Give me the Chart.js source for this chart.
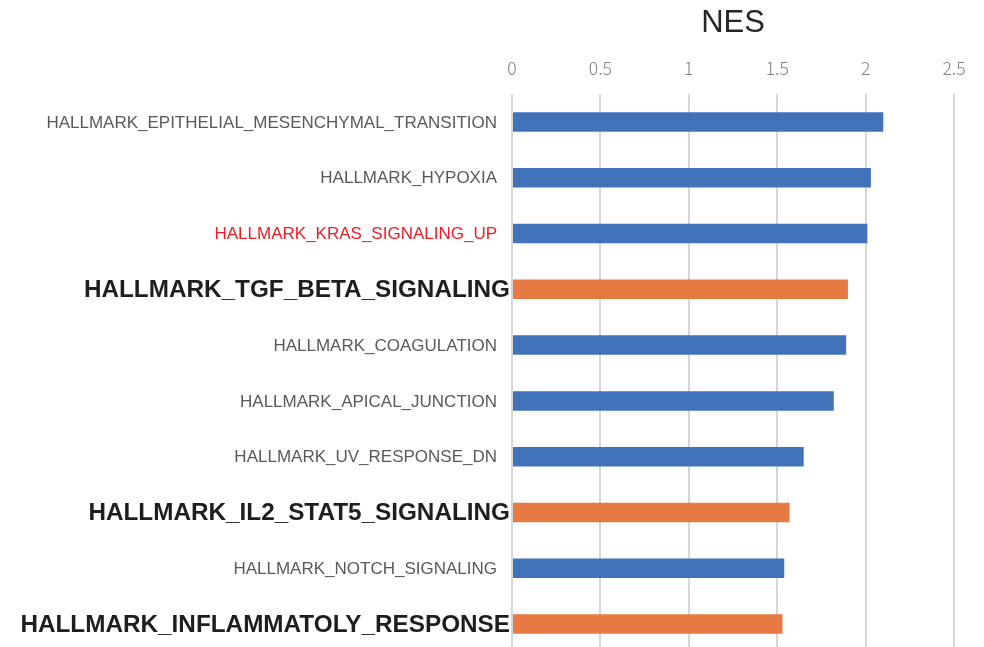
<!DOCTYPE html>
<html>
<head>
<meta charset="utf-8">
<script src="https://cdn.jsdelivr.net/npm/chart.js@4"></script>
<style>
  html, body { margin: 0; padding: 0; background: #fff; overflow: hidden; }
  #wrap { width: 984px; height: 652px; position: relative; }
</style>
</head>
<body>
<div id="wrap"><canvas id="nesChart"></canvas></div>
<script>
// hallmark gene sets, top to bottom
const categories = [
    "HALLMARK_EPITHELIAL_MESENCHYMAL_TRANSITION",
    "HALLMARK_HYPOXIA",
    "HALLMARK_KRAS_SIGNALING_UP",
    "HALLMARK_TGF_BETA_SIGNALING",
    "HALLMARK_COAGULATION",
    "HALLMARK_APICAL_JUNCTION",
    "HALLMARK_UV_RESPONSE_DN",
    "HALLMARK_IL2_STAT5_SIGNALING",
    "HALLMARK_NOTCH_SIGNALING",
    "HALLMARK_INFLAMMATOLY_RESPONSE"
];
const nesValues = [2.10, 2.03, 2.01, 1.90, 1.89, 1.82, 1.65, 1.57, 1.54, 1.53];

// sets drawn in orange with big bold labels
const highlighted = [
    "HALLMARK_TGF_BETA_SIGNALING",
    "HALLMARK_IL2_STAT5_SIGNALING",
    "HALLMARK_INFLAMMATOLY_RESPONSE"
];
// label written in red
const redLabels = ["HALLMARK_KRAS_SIGNALING_UP"];

const xMin = 0, xMax = 2.5, xStep = 0.5;
const title = "NES";

const blue = "#4173ba";
const orange = "#e67a42";

var barColors = categories.map(c => highlighted.includes(c) ? orange : blue);

// draws the title and the left labels, each with its own style
const labelPlugin = {
    id: "labelPlugin",
    afterDraw(chart) {
        const ctx = chart.ctx;
        const area = chart.chartArea;
        const yScale = chart.scales.y;
        ctx.save();

        ctx.fillStyle = "#262626";
        ctx.font = "31px 'Liberation Sans', Arial, sans-serif";
        ctx.textAlign = "center";
        ctx.textBaseline = "middle";
        ctx.fillText(title, (area.left + area.right) / 2, 23);

        ctx.textAlign = "right";
        categories.forEach((c, i) => {
            var y = yScale.getPixelForTick(i);
            if (highlighted.includes(c)) {
                ctx.font = "bold 24.3px 'Liberation Sans', Arial, sans-serif";
                ctx.fillStyle = "#1e1e1e";
                ctx.fillText(c, area.left - 2, y + 1);
            } else {
                ctx.font = "17px 'Liberation Sans', Arial, sans-serif";
                ctx.fillStyle = redLabels.includes(c) ? "#ee1c25" : "#595959";
                ctx.fillText(c, area.left - 15, y + 1);
            }
        });
        ctx.restore();
    }
};

const myChart = new Chart("nesChart", {
    type: "bar",
    data: {
        labels: categories,
        datasets: [{
            label: title,
            data: nesValues,
            backgroundColor: barColors,
            borderWidth: 0,
            barPercentage: 0.35,
            categoryPercentage: 1
        }]
    },
    options: {
        indexAxis: "y",
        responsive: true,
        maintainAspectRatio: false,
        animation: false,
        layout: { padding: { top: 0, left: 0, right: 30, bottom: 0 } },
        plugins: {
            legend: { display: false },
            tooltip: { enabled: false }
        },
        scales: {
            x: {
                position: "top",
                min: xMin,
                max: xMax,
                ticks: {
                    stepSize: xStep,
                    color: "#7f7f7f",
                    font: { family: "'Noto Sans CJK JP', 'DejaVu Sans', sans-serif", size: 17.5, weight: 300 },
                    padding: 15,
                    callback: v => String(v)
                },
                grid: { color: "#d6d6d6", lineWidth: 2, drawTicks: false },
                border: { display: false },
                afterFit(scale) { scale.height = 94; }
            },
            y: {
                ticks: { display: false },
                grid: { display: false },
                border: { display: false },
                afterFit(scale) { scale.width = 512; }
            }
        }
    },
    plugins: [labelPlugin]
});
</script>
</body>
</html>
